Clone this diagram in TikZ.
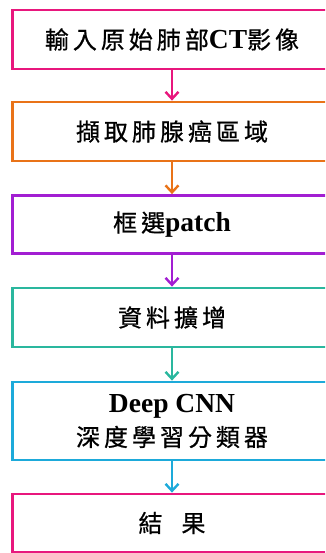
\documentclass[tikz,border=0pt]{standalone}
\usepackage{fontspec}
\setmainfont{Liberation Serif}
\newfontfamily\cjk[FakeBold=0.7]{Noto Sans CJK TC}
\newfontfamily\latf{Liberation Serif}
\usetikzlibrary{arrows.meta}
\definecolor{cpink}{HTML}{E8177D}
\definecolor{corange}{HTML}{E97318}
\definecolor{cpurple}{HTML}{A21ED2}
\definecolor{cteal}{HTML}{2AB79E}
\definecolor{ccyan}{HTML}{1DAADA}
\newcommand\ckg{\hspace{4pt}}
\newcommand\lat[1]{{\latf\bfseries\fontsize{27.5}{30}\selectfont #1}}
\tikzset{
  stepbox/.style={draw, line width=2.8pt, minimum width=319pt, minimum height=59pt,
    inner sep=0pt, align=center, font=\cjk\fontsize{24}{34}\selectfont, text=black},
  flow/.style={line width=2.4pt, -{Straight Barb[length=7pt,width=13pt,line width=2.4pt]}}
}
\begin{document}
\begin{tikzpicture}[x=1pt,y=-1pt]
\useasboundingbox (0,0) rectangle (325,553);
\clip (0,0) rectangle (325,553);
\node[stepbox, draw=cpink] (b1) at (172,39.5) {輸\ckg 入\ckg 原\ckg 始\ckg 肺\ckg 部\lat{CT}影\ckg 像};
\node[stepbox, draw=corange] (b2) at (172,131.5) {擷\ckg 取\ckg 肺\ckg 腺\ckg 癌\ckg 區\ckg 域};
\node[stepbox, draw=cpurple, minimum height=58pt] (b3) at (172,224.5) {框\ckg 選\lat{patch}};
\node[stepbox, draw=cteal] (b4) at (172,317.5) {資\ckg 料\ckg 擴\ckg 增};
\node[stepbox, draw=ccyan, minimum height=78pt] (b5) at (172,421) {\lat{Deep CNN}\\[0pt]深\ckg 度\ckg 學\ckg 習\ckg 分\ckg 類\ckg 器};
\node[stepbox, draw=cpink, minimum height=58pt] (b6) at (172,523) {結\hspace{19pt}果};
\draw[flow, cpink] (b1) -- (b2);
\draw[flow, corange] (b2) -- (b3);
\draw[flow, cpurple] (b3) -- (b4);
\draw[flow, cteal] (b4) -- (b5);
\draw[flow, ccyan] (b5) -- (b6);
\end{tikzpicture}
\end{document}
